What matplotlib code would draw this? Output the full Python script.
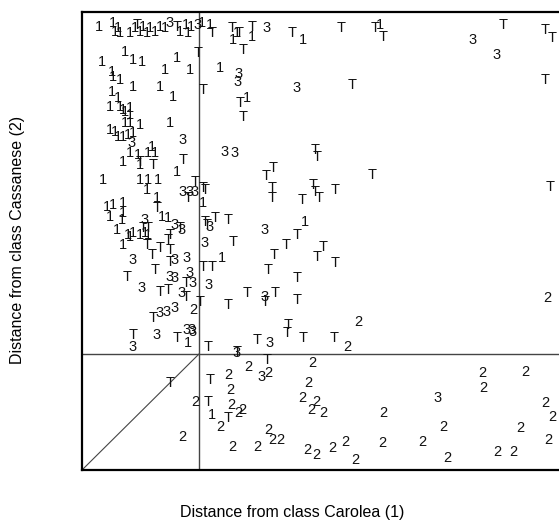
import matplotlib
matplotlib.use("Agg")
import matplotlib.pyplot as plt

plt.rcParams["font.family"] = ["Liberation Sans", "DejaVu Sans"]

# distances from class Carolea (x) and class Cassanese (y), arbitrary units
ones_x = [17, 31, 33, 36, 38, 48, 53, 58, 61, 65, 68, 73, 78, 83, 98, 104, 106, 109, 120, 128,
          155, 151, 170, 221, 298, 20, 43, 51, 60, 95, 108, 30, 31, 38, 51, 83, 78, 91, 30, 28,
          36, 38, 41, 48, 48, 138, 165, 43, 28, 33, 43, 48, 58, 88, 36, 41, 46, 51, 41, 48,
          56, 58, 66, 70, 73, 95, 21, 58, 66, 76, 65, 75, 80, 86, 25, 31, 28, 41, 41, 40,
          35, 46, 51, 121, 223, 140, 41, 48, 58, 63, 66, 106, 130]
ones_y = [443, 447, 438, 442, 437, 437, 442, 438, 443, 437, 442, 438, 443, 442, 438, 445, 437, 443, 447, 445,
          437, 430, 433, 430, 445, 408, 418, 410, 408, 412, 400, 398, 393, 390, 383, 400, 383, 373, 378, 363,
          372, 363, 360, 362, 355, 402, 372, 358, 340, 338, 347, 347, 345, 347, 333, 333, 335, 337, 308, 317,
          315, 305, 317, 323, 317, 298, 290, 290, 290, 290, 280, 272, 253, 252, 263, 265, 253, 267, 257, 250,
          240, 235, 237, 267, 248, 212, 225, 233, 235, 237, 235, 127, 55]

twos_x = [276, 265, 111, 166, 230, 146, 148, 186, 226, 113, 149, 160, 138, 156, 220, 234, 229, 241,
          186, 190, 198, 150, 175, 225, 234, 250, 263, 273, 400, 401, 443, 301, 361, 300, 340, 365,
          438, 415, 431, 463, 470, 466, 465, 100]
twos_y = [148, 123, 160, 103, 107, 95, 80, 97, 87, 68, 65, 60, 43, 57, 72, 68, 60, 57,
          40, 30, 30, 23, 23, 20, 15, 22, 28, 10, 97, 82, 98, 57, 43, 27, 28, 12,
          42, 18, 18, 67, 53, 30, 172, 33]

threes_x = [88, 116, 185, 391, 415, 157, 156, 215, 143, 153, 113, 128, 183, 123, 108, 111, 127, 183,
            111, 188, 155, 180, 356, 50, 101, 101, 108, 100, 51, 93, 105, 60, 88, 93, 100, 78,
            85, 93, 51, 75, 105, 110, 63, 93]
threes_y = [447, 445, 442, 430, 415, 396, 388, 382, 318, 317, 278, 243, 240, 227, 197, 187, 185, 173,
            138, 127, 117, 93, 72, 327, 330, 278, 278, 240, 210, 210, 212, 182, 193, 192, 177, 157,
            158, 162, 123, 135, 140, 140, 250, 245]

tees_x = [95, 130, 150, 157, 170, 210, 259, 293, 301, 421, 463, 470, 463, 55, 116, 161, 121, 158,
          161, 270, 233, 235, 184, 191, 290, 113, 121, 190, 190, 220, 231, 233, 237, 253, 123, 133,
          146, 151, 215, 204, 192, 121, 130, 235, 241, 253, 186, 215, 118, 146, 165, 183, 193, 215,
          206, 205, 221, 252, 175, 126, 155, 185, 128, 126, 146, 88, 468, 58, 71, 101, 106, 123,
          75, 61, 66, 98, 88, 125, 65, 78, 86, 88, 70, 73, 88, 45, 78, 86, 104, 104,
          71, 51, 95]
tees_y = [443, 437, 442, 437, 443, 437, 442, 442, 433, 445, 440, 432, 390, 445, 417, 420, 380, 367,
          353, 385, 320, 313, 294, 302, 295, 288, 282, 282, 272, 270, 285, 278, 272, 280, 248, 252,
          250, 228, 235, 225, 215, 203, 203, 213, 223, 207, 200, 192, 168, 165, 177, 168, 177, 170,
          145, 137, 132, 132, 130, 123, 118, 110, 90, 68, 52, 87, 283, 308, 305, 310, 272, 280,
          262, 242, 242, 242, 235, 245, 225, 222, 230, 220, 215, 200, 208, 193, 178, 180, 187, 173,
          152, 135, 132]

classes = [("1", ones_x, ones_y), ("2", twos_x, twos_y),
           ("3", threes_x, threes_y), ("T", tees_x, tees_y)]

threshold_x = 117
threshold_y = 116

fig = plt.figure(figsize=(5.59, 5.20), dpi=100)
ax = fig.add_axes([82 / 559, 50 / 520, 490 / 559, 458 / 520])
ax.set_xlim(0, 490)
ax.set_ylim(0, 458)

for label, xs, ys in classes:
    for x, y in zip(xs, ys):
        ax.text(x, y, label, ha="center", va="center", fontsize=10.5, color="#111111")

ax.axvline(threshold_x, color="#444444", lw=1)
ax.axhline(threshold_y, color="#444444", lw=1)
ax.plot([0, threshold_x], [0, threshold_y], color="#444444", lw=0.8)

ax.set_xticks([])
ax.set_yticks([])
for s in ax.spines.values():
    s.set_linewidth(1.6)
    s.set_color("black")

fig.text(292 / 559, 8 / 520, "Distance from class Carolea (1)", ha="center", va="center", fontsize=11.5)
fig.text(18 / 559, 280 / 520, "Distance from class Cassanese (2)", ha="center", va="center",
         rotation=90, fontsize=11.5)

fig.savefig("out.png", dpi=100)
